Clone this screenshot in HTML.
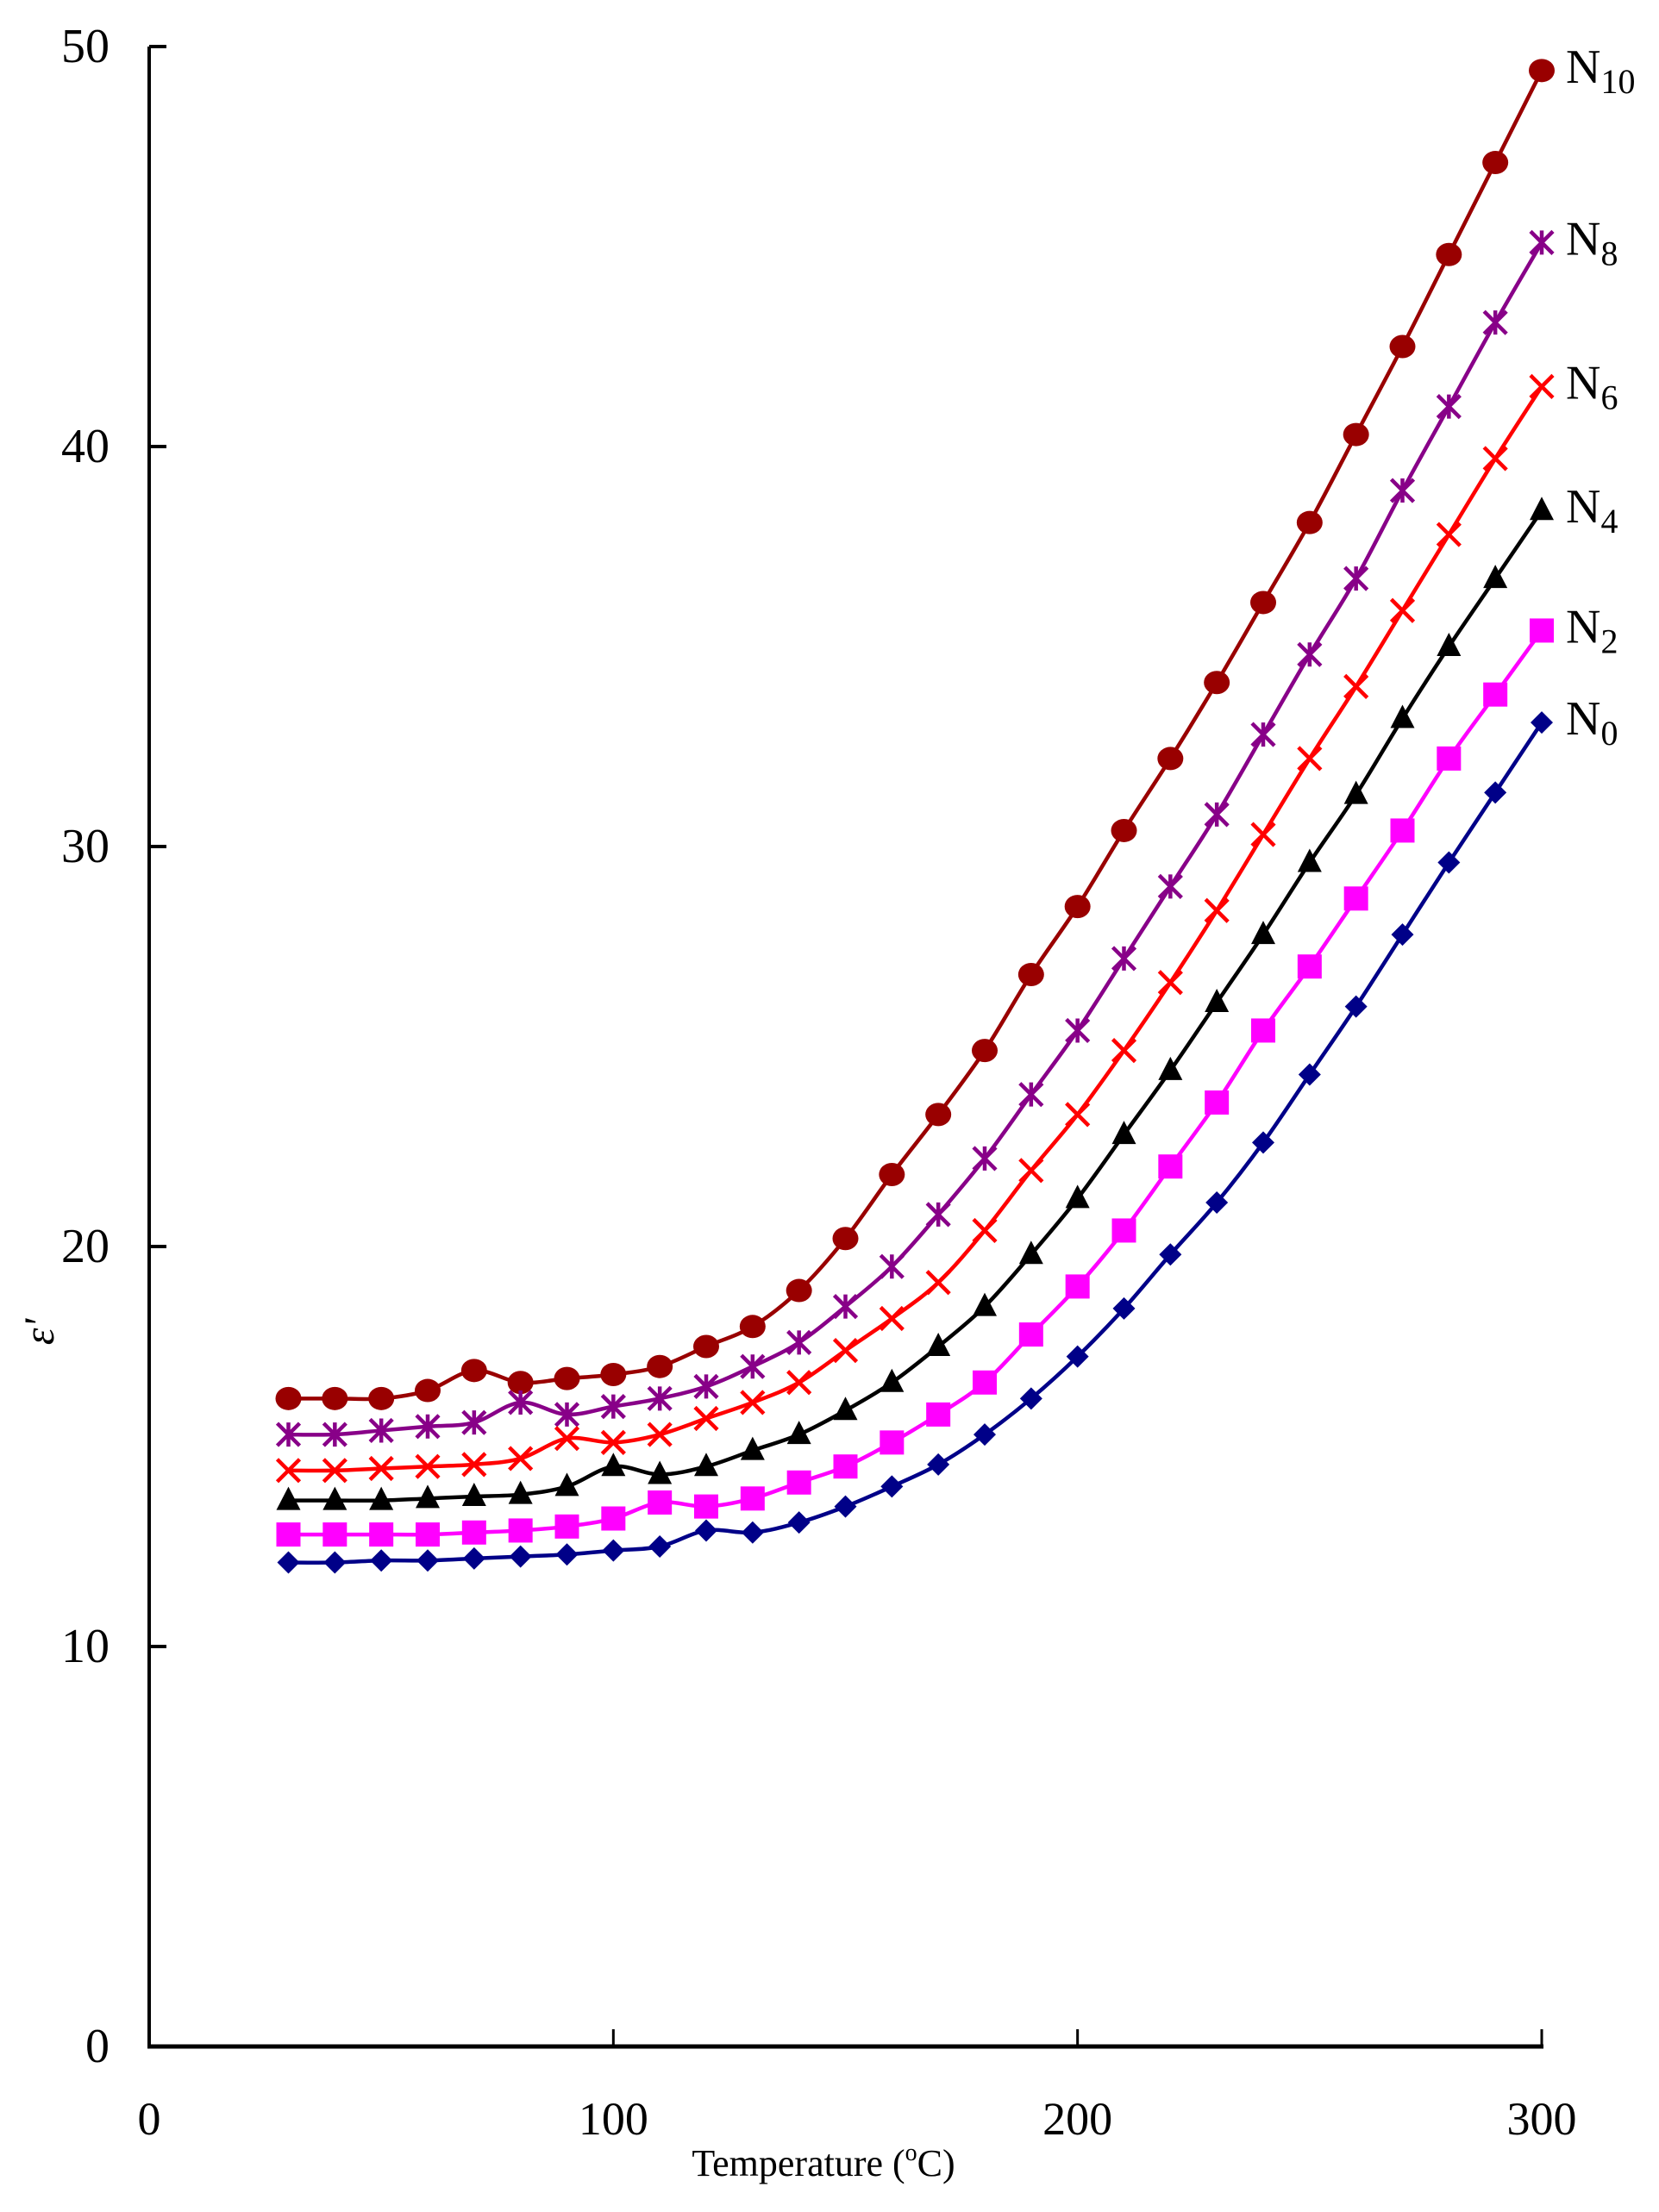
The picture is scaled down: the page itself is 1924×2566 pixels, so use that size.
<!DOCTYPE html>
<html><head><meta charset="utf-8"><style>
html,body{margin:0;padding:0;background:#fff;}
svg{display:block;font-family:"Liberation Serif",serif;}
</style></head><body>
<svg id="chart" width="1924" height="2566" viewBox="0 0 1924 2566" xmlns="http://www.w3.org/2000/svg">
<g id="axes"></g>
<g id="series"></g>
<text x="0" y="0" font-size="50" font-style="italic" text-anchor="middle" transform="translate(62,1545) rotate(-90)">ε'</text>
<text x="955" y="2524" font-size="44" text-anchor="middle">Temperature (<tspan font-size="28" dy="-18">o</tspan><tspan dy="18">C)</tspan></text>
</svg>
<script>
const temps=[30,40,50,60,70,80,90,100,110,120,130,140,150,160,170,180,190,200,210,220,230,240,250,260,270,280,290,300];
const n10=[16.2,16.2,16.2,16.4,16.9,16.6,16.7,16.8,17.0,17.5,18.0,18.9,20.2,21.8,23.3,24.9,26.8,28.5,30.4,32.2,34.1,36.1,38.1,40.3,42.5,44.8,47.1,49.4];
const n8=[15.3,15.3,15.4,15.5,15.6,16.1,15.8,16.0,16.2,16.5,17.0,17.6,18.5,19.5,20.8,22.2,23.8,25.4,27.2,29.0,30.8,32.8,34.8,36.7,38.9,41.0,43.1,45.1];
const n6=[14.4,14.4,14.45,14.5,14.55,14.7,15.2,15.1,15.3,15.7,16.1,16.6,17.4,18.2,19.1,20.4,21.9,23.3,24.9,26.6,28.4,30.3,32.2,34.0,35.9,37.8,39.7,41.5];
const n4=[13.65,13.65,13.65,13.7,13.75,13.8,14.0,14.5,14.3,14.5,14.9,15.3,15.9,16.6,17.5,18.5,19.8,21.2,22.8,24.4,26.1,27.8,29.6,31.3,33.2,35.0,36.7,38.4];
const n2=[12.8,12.8,12.8,12.8,12.85,12.9,13.0,13.2,13.6,13.5,13.7,14.1,14.5,15.1,15.8,16.6,17.8,19.0,20.4,22.0,23.6,25.4,27.0,28.7,30.4,32.2,33.8,35.4];
const n0=[12.1,12.1,12.15,12.15,12.2,12.25,12.3,12.4,12.5,12.9,12.85,13.1,13.5,14.0,14.55,15.3,16.2,17.25,18.45,19.8,21.1,22.6,24.3,26.0,27.8,29.6,31.35,33.1];
const xTicks=[0,100,200,300];
const yTicks=[0,10,20,30,40,50];
const seriesNames=["N10","N8","N6","N4","N2","N0"];
const subs=["10","8","6","4","2","0"];

const NS="http://www.w3.org/2000/svg";
const X=v=>173+v*(1788-173)/300;
const Y=v=>2374-v*(2374-54)/50;
function mk(tag,attrs,parent){const e=document.createElementNS(NS,tag);for(const k in attrs)e.setAttribute(k,attrs[k]);parent.appendChild(e);return e;}
const axes=document.getElementById('axes');
let a=mk('line',{x1:X(0),y1:Y(0),x2:X(0),y2:Y(50),stroke:'#000','stroke-width':4},axes);

a=mk('line',{x1:X(0)-2,y1:Y(0),x2:X(300)+2,y2:Y(0),stroke:'#000','stroke-width':5},axes);

yTicks.forEach(t=>{
  const l=mk('line',{x1:X(0),y1:Y(t),x2:X(0)+20,y2:Y(t),stroke:'#000','stroke-width':4},axes);
  
  const tx=mk('text',{x:127,y:Y(t)+18,'font-size':56,'text-anchor':'end'},axes);tx.textContent=t;
  
});
xTicks.forEach(t=>{
  const l=mk('line',{x1:X(t),y1:Y(0),x2:X(t),y2:Y(0)-20,stroke:'#000','stroke-width':3},axes);
  
  const tx=mk('text',{x:X(t),y:2476,'font-size':54,'text-anchor':'middle'},axes);tx.textContent=t;
  
});
const data=[n10,n8,n6,n4,n2,n0];
const colors=["#990000","#880088","#ff0000","#000000","#ff00ff","#000088"];
const marks=["circle","star","x","tri","square","diamond"];
const sg=document.getElementById('series');
function smooth(pts){let d=`M${pts[0][0]},${pts[0][1]}`;for(let i=0;i<pts.length-1;i++){const p0=pts[Math.max(0,i-1)],p1=pts[i],p2=pts[i+1],p3=pts[Math.min(pts.length-1,i+2)];const c1=[p1[0]+(p2[0]-p0[0])/6,p1[1]+(p2[1]-p0[1])/6],c2=[p2[0]-(p3[0]-p1[0])/6,p2[1]-(p3[1]-p1[1])/6];d+=` C${c1[0]},${c1[1]} ${c2[0]},${c2[1]} ${p2[0]},${p2[1]}`;}return d;}
data.forEach((vals,si)=>{
  const g=mk('g',{},sg);
  
  
  const c=colors[si];
  const pts=temps.map((t,i)=>[X(t),Y(vals[i])]);
  const p=mk('path',{d:smooth(pts),fill:'none',stroke:c,'stroke-width':4.5},g);
  
  
  pts.forEach(([x,y])=>{
    let m;const k=marks[si];
    if(k==='circle')m=mk('ellipse',{cx:x,cy:y,rx:15,ry:13.5,fill:c},g);
    else if(k==='square')m=mk('rect',{x:x-14,y:y-14,width:28,height:28,fill:c},g);
    else if(k==='tri')m=mk('polygon',{points:`${x},${y-16} ${x+14},${y+11} ${x-14},${y+11}`,fill:c},g);
    else if(k==='diamond')m=mk('polygon',{points:`${x},${y-13} ${x+13},${y} ${x},${y+13} ${x-13},${y}`,fill:c},g);
    else if(k==='x')m=mk('path',{d:`M${x-13},${y-13}L${x+13},${y+13}M${x-13},${y+13}L${x+13},${y-13}`,stroke:c,'stroke-width':4.5},g);
    else m=mk('path',{d:`M${x-13},${y-13}L${x+13},${y+13}M${x-13},${y+13}L${x+13},${y-13}M${x},${y-14}L${x},${y+14}`,stroke:c,'stroke-width':4.5},g);
    
    
  });
  const last=vals[vals.length-1];
  const lbl=mk('text',{x:1816,y:Y(last)+14,'font-size':56},sg);
  lbl.innerHTML=`N<tspan font-size="40" dy="12">${subs[si]}</tspan>`;
  
  
});
</script>
</body></html>
